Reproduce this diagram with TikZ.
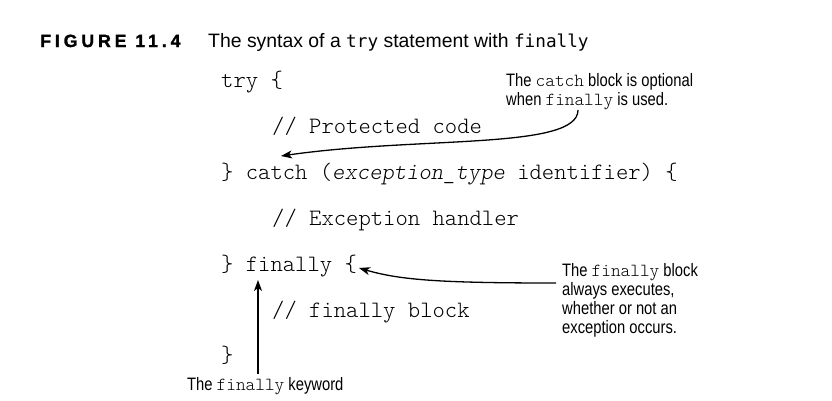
\documentclass[tikz,border=0pt]{standalone}
\usepackage{fontspec}
\setmainfont{Liberation Sans}
\newfontfamily\codefont{lmmonolt10-regular.otf}[ItalicFont=lmmonolt10-oblique.otf]
\newfontfamily\capmono{DejaVu Sans Mono}
\newfontfamily\condfont[FakeStretch=0.82]{Liberation Sans}
\newfontfamily\figfont[LetterSpace=22,FakeBold=1.5]{LiberationSans-Bold.ttf}
\usetikzlibrary{arrows.meta}
\newcommand{\labmono}[1]{{\codefont\fontsize{18.4}{19}\selectfont #1}}
\begin{document}
\begin{tikzpicture}[x=1pt,y=-1pt,
  code/.style={anchor=base west,inner sep=0pt,font=\codefont\fontsize{23.5}{24}\selectfont},
  lab/.style={anchor=base west,inner sep=0pt,font=\condfont\fontsize{18}{19.2}\selectfont},
  captext/.style={anchor=base west,inner sep=0pt},
  arr/.style={line width=1.3pt,-{Stealth[length=11pt,width=8pt,inset=3pt]}}]
\useasboundingbox (0,0) rectangle (832,400);
% caption
\node[captext,font=\figfont\fontsize{17.7}{20}\selectfont] (fig) at (40,47) {FIGURE 11.4};
\node[captext,font=\fontsize{19.4}{20}\selectfont] (title) at (208,47) {The syntax of a {\capmono\fontsize{17.7}{20}\selectfont try} statement with {\capmono\fontsize{17.7}{20}\selectfont finally}};
% code
\node[code] (try) at (221,87) {try \{};
\node[code] (prot) at (272,133) {// Protected code};
\node[code] (catch) at (221,179) {\} catch (\textit{exception\_type} identifier) \{};
\node[code] (exh) at (272,225) {// Exception handler};
\node[code] (fin) at (221,271) {\} finally \{};
\node[code] (finb) at (272,317) {// finally block};
\node[code] (close) at (221,362) {\}};
% labels
\node[lab] (lcatch) at (506,86) {\vtop{\hbox{The \labmono{catch} block is optional}\hbox{when \labmono{finally} is used.}}};
\node[lab] (lfin) at (562,276) {\vtop{\hbox{The \labmono{finally} block}\hbox{always executes,}\hbox{whether or not an}\hbox{exception occurs.}}};
\node[lab] (lkey) at (187,390) {The \labmono{finally} keyword};
% arrow anchor points
\coordinate (a1s) at (578,110);
\coordinate (a1e) at (281,156);
\coordinate (a2s) at (556,283);
\coordinate (a2e) at (359,268);
\coordinate (a3s) at (258,374);
\coordinate (a3e) at (258,280);
\draw[arr] (a1s) .. controls (578,150) and (420,136) .. (a1e);
\draw[arr] (a2s) .. controls (440,283) and (400,280) .. (a2e);
\draw[arr] (a3s) -- (a3e);
\end{tikzpicture}
\end{document}
